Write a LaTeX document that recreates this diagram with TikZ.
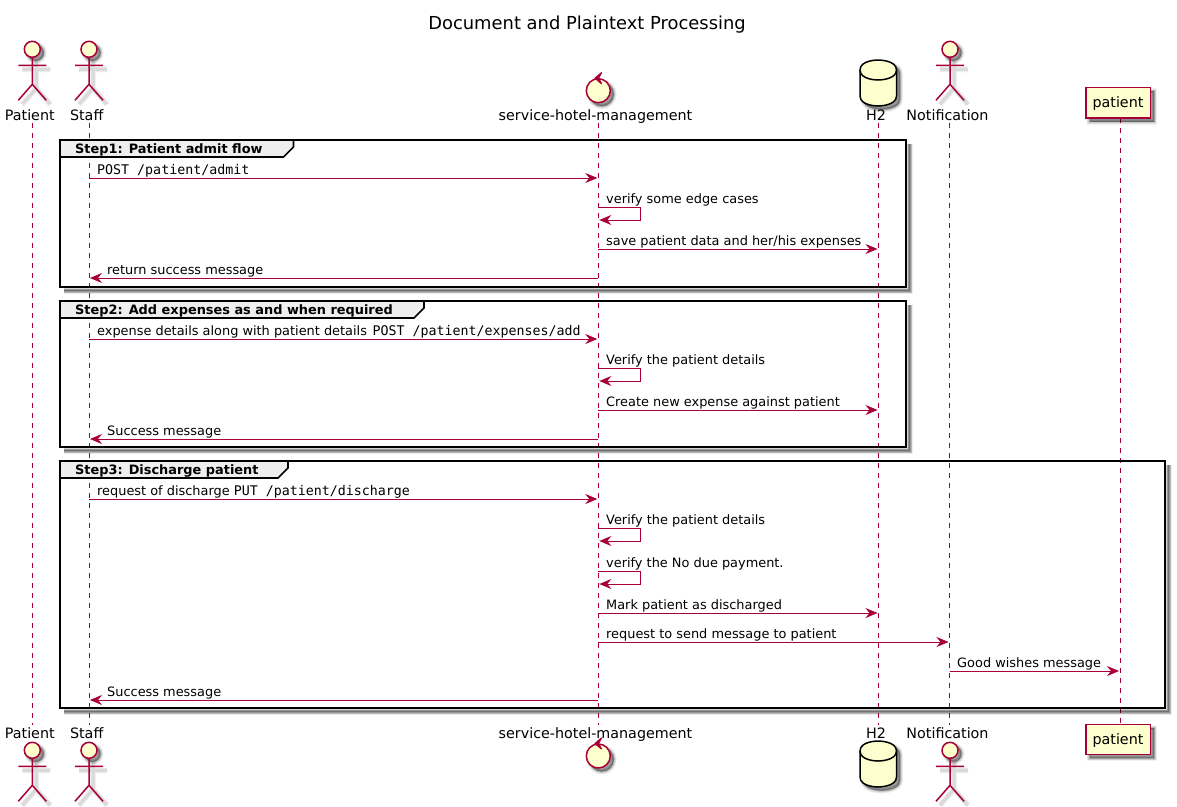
\documentclass[tikz,border=0pt]{standalone}
\usepackage{fontspec}
\setmainfont{DejaVu Sans}
\setmonofont{DejaVu Sans Mono}
\usetikzlibrary{arrows.meta}
\definecolor{umlred}{HTML}{A80036}
\definecolor{umlfill}{HTML}{FEFECE}
\definecolor{tabfill}{HTML}{EEEEEE}
\tikzset{
  life/.style={draw=umlred,line width=0.8pt,dash pattern=on 5pt off 5pt},
  msgline/.style={draw=umlred,line width=0.9pt,-{Stealth[length=12pt,width=10pt,inset=4pt]}},
  msgtext/.style={anchor=base west,inner sep=0pt,font=\fontsize{12.9}{15}\selectfont,text=black},
  parttext/.style={anchor=base,inner sep=0pt,font=\fontsize{14.3}{16}\selectfont,text=black},
  grouptext/.style={anchor=base west,inner sep=0pt,font=\fontsize{12.9}{15}\selectfont\bfseries,text=black},
  shape line/.style={draw=umlred,line width=1.5pt,fill=umlfill},
  frameline/.style={draw=black,line width=2.4pt},
}
\newcommand{\monotext}[1]{{\fontsize{13.3}{15}\selectfont\texttt{#1}}}
\newcommand{\softfill}[1]{\foreach \w/\o in {6/.05,4.5/.07,3/.09,1.5/.1,0.5/.12}{\path[shift={(3.5,3.5)},draw=black,fill=black,line width=\w pt,opacity=\o] #1;}}
\newcommand{\softline}[1]{\foreach \w/\o in {6/.04,4.5/.05,3/.06}{\path[shift={(4,4)},draw=black,line width=\w pt,opacity=\o] #1;}}
% actor figure: x, y of head centre
\newcommand{\actorfig}[2]{
  \softline{(#1-14,#2+16)--(#1+14,#2+16) (#1,#2+8)--(#1,#2+35)--(#1-14,#2+51) (#1,#2+35)--(#1+14,#2+51)}
  \softfill{(#1,#2) circle (8)}
  \draw[draw=umlred,line width=1.5pt] (#1-14,#2+16)--(#1+14,#2+16) (#1,#2+8)--(#1,#2+35)--(#1-14,#2+51) (#1,#2+35)--(#1+14,#2+51);
  \draw[shape line] (#1,#2) circle (8);
}
% database cylinder: top y
\newcommand{\cyl}[1]{
  \softfill{(860,#1+10) .. controls (860,#1) and (878,#1) .. (878,#1) .. controls (878,#1) and (896.5,#1) .. (896.5,#1+10) -- (896.5,#1+36) .. controls (896.5,#1+46) and (878,#1+46) .. (878,#1+46) .. controls (878,#1+46) and (860,#1+46) .. (860,#1+36) -- cycle}
  \draw[draw=black,fill=umlfill,line width=1.5pt] (860,#1+10) .. controls (860,#1) and (878,#1) .. (878,#1) .. controls (878,#1) and (896.5,#1) .. (896.5,#1+10) -- (896.5,#1+36) .. controls (896.5,#1+46) and (878,#1+46) .. (878,#1+46) .. controls (878,#1+46) and (860,#1+46) .. (860,#1+36) -- cycle;
  \draw[draw=black,line width=1.5pt] (860,#1+10) .. controls (860,#1+20) and (878,#1+20) .. (878,#1+20) .. controls (878,#1+20) and (896.5,#1+20) .. (896.5,#1+10);
}
% control circle: centre y
\newcommand{\ctrl}[1]{
  \softfill{(598.3,#1) circle (12)}
  \draw[shape line] (598.3,#1) circle (12);
  \draw[draw=umlred,fill=umlred,line width=1.2pt,line join=round] (601.5,#1-18) -- (595,#1-12.5) -- (601.5,#1-7) -- (598.5,#1-12.5) -- cycle;
}
% group frame: name, x2, y1, y2, tab right, title
\newcommand{\group}[6]{
  \foreach \w/\o in {7/.07,5.5/.1,4/.13,2.5/.18,1.5/.25}{\draw[line width=\w pt,black,opacity=\o] (#2+3.5,#3+4) -- (#2+3.5,#4+3.5) -- (64,#4+3.5);}
  \draw[frameline,line width=1.6pt,fill=tabfill] (60,#3) -- (#5,#3) -- (#5,#3+7) -- (#5-10,#3+17) -- (60,#3+17) -- cycle;
  \draw[frameline] (60,#3) rectangle (#2,#4);
  \node[grouptext] (#1) at (75,#3+13.3) {#6};
}
% message: name, from, to, y, label x, text
\newcommand{\msg}[6]{
  \coordinate (#1a) at (#2Top |- 0,#4);
  \coordinate (#1b) at (#3Top |- 0,#4);
  \draw[msgline,shorten >=1pt] (#1a) -- (#1b);
  \node[msgtext] (#1t) at (#5,#4-3.9) {#6};
}
% self message: name, y1, text
\newcommand{\selfmsg}[3]{
  \coordinate (#1a) at (serviceTop |- 0,#2);
  \coordinate (#1b) at (640.5,#2);
  \coordinate (#1c) at (640.5,#2+13);
  \coordinate (#1d) at (serviceTop |- 0,#2+13);
  \draw[msgline,shorten >=1pt] (#1a) -- (#1b) -- (#1c) -- (#1d);
  \node[msgtext] (#1t) at (606,#2-3.7) {#3};
}
\begin{document}
\begin{tikzpicture}[x=1pt,y=-1pt]
\useasboundingbox (0,0) rectangle (1177,806);
\fill[white] (0,0) rectangle (1177,806);

\node[anchor=base,inner sep=0pt,font=\fontsize{17.9}{20}\selectfont,text=black] (title) at (587,29) {Document and Plaintext Processing};

% lifeline ends
\coordinate (patientATop) at (32.3,123); \coordinate (patientABot) at (32.3,725);
\coordinate (staffTop) at (89,123);      \coordinate (staffBot) at (89,725);
\coordinate (serviceTop) at (598.3,123); \coordinate (serviceBot) at (598.3,725);
\coordinate (dbTop) at (878.5,123);      \coordinate (dbBot) at (878.5,725);
\coordinate (notifTop) at (949.5,123);   \coordinate (notifBot) at (949.5,725);
\coordinate (patientBTop) at (1120,118); \coordinate (patientBBot) at (1120,724);
\foreach \p in {patientA,staff,service,db,notif,patientB}{\draw[life] (\p Top) -- (\p Bot);}

% participants, top
\actorfig{32.3}{49.3}
\actorfig{89}{49.3}
\ctrl{90.7}
\cyl{60}
\actorfig{950}{49.3}
\node[parttext] (lbl1) at (29.8,120) {Patient};
\node[parttext] (lbl2) at (86.7,120) {Staff};
\node[parttext] (lbl3) at (595.5,120) {service-hotel-management};
\node[parttext] (lbl4) at (876,120) {H2};
\node[parttext] (lbl5) at (947.5,120) {Notification};
\softfill{(1086,87.5) rectangle (1150.7,118)}
\draw[draw=umlred,fill=umlfill,line width=1.5pt] (1086,87.5) rectangle (1150.7,118);
\node[parttext] (lbl6) at (1118,107.5) {patient};

% participants, bottom
\actorfig{32.3}{750.3}
\actorfig{89}{750.3}
\ctrl{756}
\cyl{741}
\actorfig{950}{750.3}
\node[parttext] (lbl7) at (29.8,738) {Patient};
\node[parttext] (lbl8) at (86.7,738) {Staff};
\node[parttext] (lbl9) at (595.5,738) {service-hotel-management};
\node[parttext] (lbl10) at (876,738) {H2};
\node[parttext] (lbl11) at (947.5,738) {Notification};
\softfill{(1086,724.5) rectangle (1150.7,754.7)}
\draw[draw=umlred,fill=umlfill,line width=1.5pt] (1086,724.5) rectangle (1150.7,754.7);
\node[parttext] (lbl12) at (1118,744.5) {patient};

% groups
\group{g1}{906}{140}{287}{293.5}{Step1: Patient admit flow}
\group{g2}{906}{301}{447}{424}{Step2: Add expenses as and when required}
\group{g3}{1165}{461}{708}{288}{Step3: Discharge patient}

% step 1
\msg{a}{staff}{service}{178}{97}{\monotext{POST /patient/admit}}
\selfmsg{b}{207}{verify some edge cases}
\msg{c}{service}{db}{249}{606}{save patient data and her/his expenses}
\msg{d}{service}{staff}{278}{107}{return success message}
% step 2
\msg{e}{staff}{service}{339}{97}{expense details along with patient details\hspace{1.5pt} \monotext{POST /patient/expenses/add}}
\selfmsg{f}{368}{Verify the patient details}
\msg{g}{service}{db}{410}{606}{Create new expense against patient}
\msg{h}{service}{staff}{439}{107}{Success message}
% step 3
\msg{i}{staff}{service}{499}{97}{request of discharge \monotext{PUT /patient/discharge}}
\selfmsg{j}{528}{Verify the patient details}
\selfmsg{k}{571}{verify the No due payment.}
\msg{l}{service}{db}{613}{606}{Mark patient as discharged}
\msg{m}{service}{notif}{642}{606}{request to send message to patient}
\msg{n}{notif}{patientB}{671}{957}{Good wishes message}
\msg{o}{service}{staff}{700}{107}{Success message}
\end{tikzpicture}
\end{document}
